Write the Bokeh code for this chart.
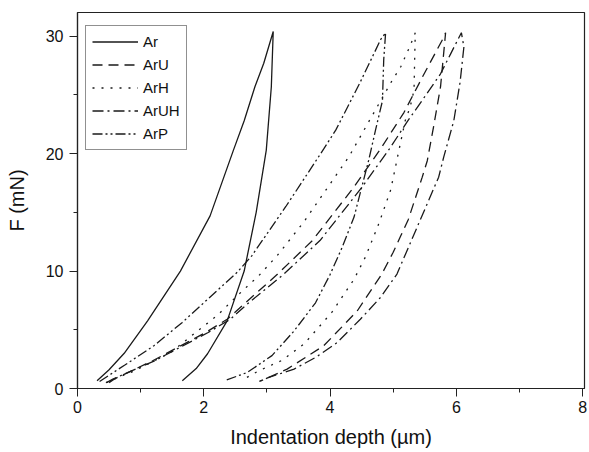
from bokeh.plotting import figure
from bokeh.models import Legend, LegendItem, Range1d, FixedTicker
from bokeh.embed import file_html
from bokeh.resources import INLINE

# ---- data ----
samples = ["Ar", "ArU", "ArH", "ArUH", "ArP"]

ar_load_x = [0.31, 0.50, 0.74, 1.11, 1.63, 2.10, 2.47, 2.64, 2.81, 2.95, 3.10]
ar_load_f = [0.66, 1.6, 3.0, 5.76, 10.0, 14.7, 20.3, 22.8, 25.7, 27.7, 30.4]
ar_unl_x = [3.10, 3.07, 2.99, 2.83, 2.64, 2.37, 2.06, 1.88, 1.66]
ar_unl_f = [30.4, 25.7, 20.3, 15.0, 10.0, 5.76, 2.96, 1.7, 0.66]

aru_load_x = [0.50, 0.58, 1.19, 2.03, 2.37, 2.64, 3.17, 3.72, 4.37, 4.80, 5.17, 5.48, 5.80, 5.83]
aru_load_f = [0.5, 0.8, 2.36, 4.77, 5.9, 7.2, 9.75, 12.6, 17.1, 20.4, 23.5, 26.7, 29.9, 30.3]
aru_unl_x = [5.83, 5.75, 5.64, 5.54, 5.46, 5.24, 5.12, 5.00, 4.82, 4.43, 3.90, 3.32, 3.03, 2.88]
aru_unl_f = [30.3, 25.7, 22.3, 19.4, 18.0, 14.4, 13.0, 11.6, 9.75, 6.6, 3.64, 1.65, 0.94, 0.6]

arh_load_x = [0.45, 0.90, 1.48, 1.87, 2.21, 2.53, 2.87, 3.16, 3.58, 4.30, 4.98, 5.12, 5.27, 5.35]
arh_load_f = [0.5, 1.5, 3.07, 4.77, 6.2, 7.9, 9.6, 11.3, 14.15, 19.75, 26.2, 27.4, 29.2, 30.3]
arh_unl_x = [5.35, 5.34, 5.33, 5.27, 5.19, 5.08, 4.96, 4.77, 4.56, 4.38, 4.03, 3.59, 3.24, 2.87, 2.60]
arh_unl_f = [30.3, 28.0, 25.4, 24.0, 22.8, 20.0, 16.9, 14.0, 11.2, 9.3, 6.5, 3.8, 2.4, 1.5, 0.7]

aruh_load_x = [0.46, 0.56, 1.22, 2.07, 2.42, 2.69, 3.27, 3.84, 4.50, 4.94, 5.22, 5.48, 5.75, 5.91, 6.08]
aruh_load_f = [0.5, 0.8, 2.36, 4.77, 5.9, 7.2, 9.75, 12.6, 17.1, 20.4, 22.7, 24.7, 26.8, 28.5, 30.3]
aruh_unl_x = [6.08, 6.12, 6.06, 5.96, 5.80, 5.72, 5.40, 5.06, 4.80, 4.48, 4.11, 3.77, 3.43, 3.03, 2.88]
aruh_unl_f = [30.3, 29.1, 26.1, 22.8, 19.7, 18.0, 14.0, 9.75, 7.76, 5.9, 3.9, 2.64, 1.65, 0.94, 0.6]

arp_load_x = [0.35, 0.75, 1.21, 1.66, 2.53, 2.76, 3.30, 3.90, 4.09, 4.28, 4.47, 4.64, 4.80, 4.88]
arp_load_f = [0.6, 2.0, 3.64, 5.63, 9.9, 11.3, 15.5, 20.4, 22.0, 24.0, 26.0, 27.9, 29.7, 30.3]
arp_unl_x = [4.88, 4.85, 4.83, 4.72, 4.61, 4.38, 4.19, 4.00, 3.77, 3.43, 3.08, 2.69, 2.35]
arp_unl_f = [30.3, 28.0, 24.5, 22.0, 19.4, 14.6, 12.0, 9.7, 7.3, 4.9, 2.8, 1.37, 0.7]

x_ticks = [0, 2, 4, 6, 8]
x_minor = [1, 3, 5, 7]
y_ticks = [0, 10, 20, 30]
y_minor = [5, 15, 25]

curves = {
    "Ar": (ar_load_x + ar_unl_x, ar_load_f + ar_unl_f, "solid"),
    "ArU": (aru_load_x + aru_unl_x, aru_load_f + aru_unl_f, "10 6"),
    "ArH": (arh_load_x + arh_unl_x, arh_load_f + arh_unl_f, "2 7"),
    "ArUH": (aruh_load_x + aruh_unl_x, aruh_load_f + aruh_unl_f, "11 4 2 4"),
    "ArP": (arp_load_x + arp_unl_x, arp_load_f + arp_unl_f, "10 3 2 3 2 3"),
}

FONT = "Liberation Sans"

p = figure(frame_width=507, frame_height=376, output_backend="svg", toolbar_location=None,
           x_range=Range1d(0, 8.03), y_range=Range1d(0, 32.02),
           min_border_left=77, min_border_right=5, min_border_top=12, min_border_bottom=64)
p.grid.visible = False
p.outline_line_color = "#222222"
p.outline_line_width = 1.2
p.background_fill_color = "white"
p.border_fill_color = "white"

items = []
for name in samples:
    xs, fs, dash = curves[name]
    r = p.line(xs, fs, line_color="#1a1a1a", line_width=1.3, line_dash=dash)
    items.append(LegendItem(label=name, renderers=[r]))

for ax in (p.xaxis[0], p.yaxis[0]):
    ax.axis_line_color = "#222222"
    ax.axis_line_width = 1.2
    ax.major_tick_line_color = "#222222"
    ax.minor_tick_line_color = "#222222"
    ax.major_tick_out = 8
    ax.major_tick_in = 0
    ax.minor_tick_out = 4
    ax.minor_tick_in = 0
    ax.major_label_text_font = FONT
    ax.major_label_text_font_size = "16px"
    ax.major_label_text_color = "#111111"
    ax.major_label_text_line_height = 1.0
    ax.axis_label_text_font = FONT
    ax.axis_label_text_font_size = "20px"
    ax.axis_label_text_font_style = "normal"
    ax.axis_label_text_color = "#111111"
    ax.axis_label_text_line_height = 1.0

p.xaxis.ticker = FixedTicker(ticks=x_ticks, minor_ticks=x_minor)
p.yaxis.ticker = FixedTicker(ticks=y_ticks, minor_ticks=y_minor)
p.xaxis.axis_label = "Indentation depth (µm)"
p.yaxis.axis_label = "F (mN)"
p.yaxis.major_label_standoff = 6
p.yaxis.axis_label_standoff = 15
p.xaxis.major_label_standoff = 4
p.xaxis.axis_label_standoff = 10

legend = Legend(items=items, location=(8, 238), orientation="vertical")
legend.label_text_font = FONT
legend.label_text_font_size = "15px"
legend.label_text_color = "#111111"
legend.glyph_width = 46
legend.glyph_height = 19
legend.label_height = 19
legend.label_standoff = 5
legend.spacing = 4
legend.padding = 6
legend.margin = 0
legend.border_line_color = "#222222"
legend.border_line_width = 1.2
legend.background_fill_color = "white"
legend.background_fill_alpha = 1.0
p.add_layout(legend)

open("out.html", "w").write(file_html(p, INLINE))
